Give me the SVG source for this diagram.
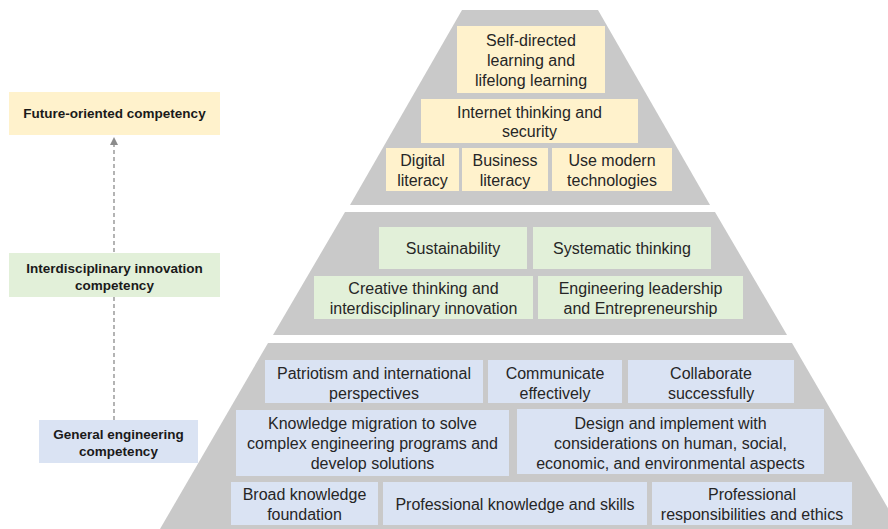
<svg xmlns="http://www.w3.org/2000/svg" width="888" height="529" viewBox="0 0 888 529">
<defs>
<style>
.tier{fill:#c9c9c9}
.y{fill:#fff2cc}
.g{fill:#e2f0d9}
.b{fill:#dae3f3}
.t{font-family:"Liberation Sans","Noto Sans",Arial,sans-serif;font-size:16px;fill:#262626;text-anchor:middle}
.l{font-family:"Liberation Sans","Noto Sans",Arial,sans-serif;font-size:13.5px;font-weight:bold;fill:#1a1a1a;text-anchor:middle}
.c{stroke:#8c8c8c;stroke-width:1.3;stroke-dasharray:4 3;fill:none}
</style>
<marker id="ah" markerWidth="8" markerHeight="8" refX="4" refY="4" orient="auto" markerUnits="userSpaceOnUse">
<path d="M0,0 L8,4 L0,8 z" fill="#8c8c8c"/>
</marker>
</defs>
<rect width="888" height="529" fill="#ffffff"/>
<g id="pyramid">
<polygon class="tier" points="462,10 598,10 710,205 350,205"/>
<polygon class="tier" points="345,212 715,212 787,335 273,335"/>
<polygon class="tier" points="268,343 792,343 900,529 160,529"/>
</g>
<g id="connectors">
<line class="c" x1="114" y1="420" x2="114" y2="141" marker-end="url(#ah)"/>
</g>
<g id="future-oriented">
<rect class="y" x="9" y="92" width="211" height="43"/>
<text class="l" x="114.5" y="118">Future-oriented competency</text>
</g>
<g id="interdisciplinary">
<rect class="g" x="9" y="253" width="211" height="44"/>
<text class="l" x="114.5" y="273">Interdisciplinary innovation</text>
<text class="l" x="114.5" y="290">competency</text>
</g>
<g id="general-engineering">
<rect class="b" x="39" y="420" width="159" height="43"/>
<text class="l" x="118.5" y="439">General engineering</text>
<text class="l" x="118.5" y="456">competency</text>
</g>
<g id="self-directed">
<rect class="y" x="457" y="26" width="148" height="67"/>
<text class="t" x="531" y="45.5">Self-directed</text>
<text class="t" x="531" y="65.5">learning and</text>
<text class="t" x="531" y="85.5">lifelong learning</text>
</g>
<g id="internet-thinking">
<rect class="y" x="421" y="99" width="217" height="44"/>
<text class="t" x="529.5" y="118">Internet thinking and</text>
<text class="t" x="529.5" y="137">security</text>
</g>
<g id="digital-literacy">
<rect class="y" x="386" y="148" width="73" height="43"/>
<text class="t" x="422.5" y="166">Digital</text>
<text class="t" x="422.5" y="186">literacy</text>
</g>
<g id="business-literacy">
<rect class="y" x="462" y="148" width="86" height="43"/>
<text class="t" x="505" y="166">Business</text>
<text class="t" x="505" y="186">literacy</text>
</g>
<g id="modern-technologies">
<rect class="y" x="552" y="148" width="120" height="43"/>
<text class="t" x="612" y="166">Use modern</text>
<text class="t" x="612" y="186">technologies</text>
</g>
<g id="sustainability">
<rect class="g" x="379" y="227" width="148" height="42"/>
<text class="t" x="453" y="253.5">Sustainability</text>
</g>
<g id="systematic-thinking">
<rect class="g" x="533" y="227" width="178" height="42"/>
<text class="t" x="622" y="253.5">Systematic thinking</text>
</g>
<g id="creative-thinking">
<rect class="g" x="314" y="276" width="219" height="43"/>
<text class="t" x="423.5" y="293.5">Creative thinking and</text>
<text class="t" x="423.5" y="313.5">interdisciplinary innovation</text>
</g>
<g id="engineering-leadership">
<rect class="g" x="538" y="276" width="205" height="43"/>
<text class="t" x="640.5" y="293.5">Engineering leadership</text>
<text class="t" x="640.5" y="313.5">and Entrepreneurship</text>
</g>
<g id="patriotism">
<rect class="b" x="265" y="360" width="218" height="43"/>
<text class="t" x="374" y="378.5">Patriotism and international</text>
<text class="t" x="374" y="398.5">perspectives</text>
</g>
<g id="communicate">
<rect class="b" x="488" y="360" width="134" height="43"/>
<text class="t" x="555" y="378.5">Communicate</text>
<text class="t" x="555" y="398.5">effectively</text>
</g>
<g id="collaborate">
<rect class="b" x="628" y="360" width="166" height="43"/>
<text class="t" x="711" y="378.5">Collaborate</text>
<text class="t" x="711" y="398.5">successfully</text>
</g>
<g id="knowledge-migration">
<rect class="b" x="236" y="410" width="273" height="66"/>
<text class="t" x="372.5" y="429">Knowledge migration to solve</text>
<text class="t" x="372.5" y="449">complex engineering programs and</text>
<text class="t" x="372.5" y="469">develop solutions</text>
</g>
<g id="design-implement">
<rect class="b" x="517" y="409" width="307" height="65"/>
<text class="t" x="670.5" y="428.5">Design and implement with</text>
<text class="t" x="670.5" y="448.5">considerations on human, social,</text>
<text class="t" x="670.5" y="468.5">economic, and environmental aspects</text>
</g>
<g id="broad-knowledge">
<rect class="b" x="231" y="482" width="147" height="43"/>
<text class="t" x="304.5" y="499.5">Broad knowledge</text>
<text class="t" x="304.5" y="519.5">foundation</text>
</g>
<g id="professional-knowledge">
<rect class="b" x="383" y="482" width="264" height="43"/>
<text class="t" x="515" y="509.5">Professional knowledge and skills</text>
</g>
<g id="professional-responsibilities">
<rect class="b" x="652" y="482" width="200" height="43"/>
<text class="t" x="752" y="499.5">Professional</text>
<text class="t" x="752" y="519.5">responsibilities and ethics</text>
</g>
</svg>
